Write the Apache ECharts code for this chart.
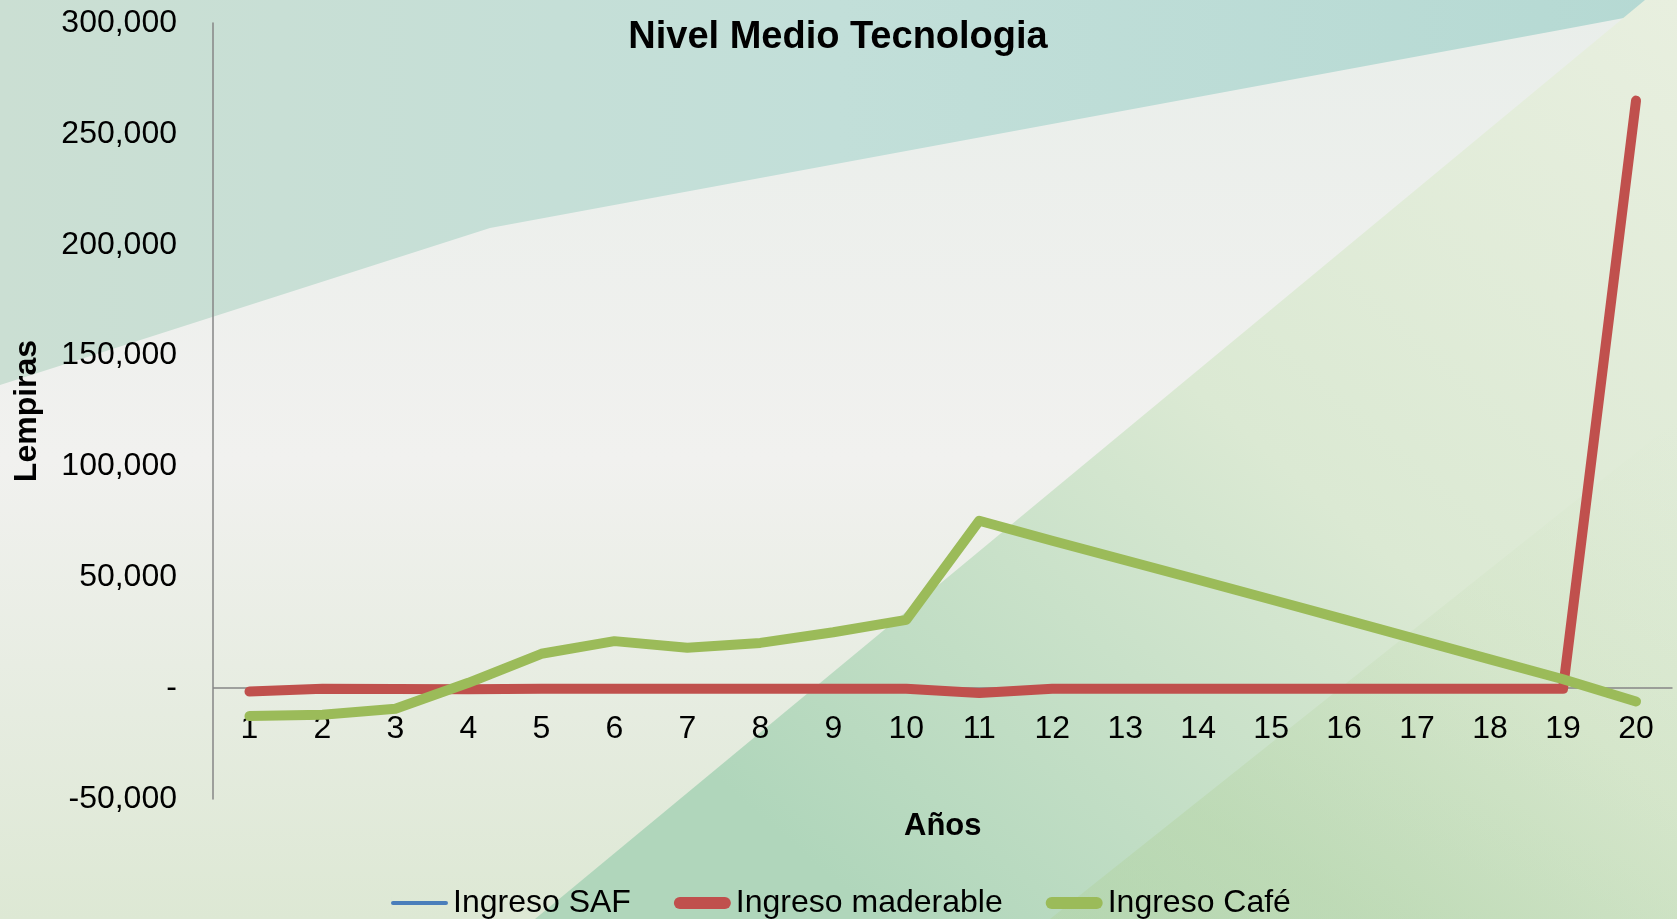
<!DOCTYPE html>
<html>
<head>
<meta charset="utf-8">
<script src="https://cdn.jsdelivr.net/npm/echarts@6/dist/echarts.min.js"></script>
<style>
  html, body { margin: 0; padding: 0; }
  #chart { width: 1677px; height: 919px; }
</style>
</head>
<body>
<div id="chart"></div>
<script>
  // años 1..20
  var years = ['1', '2', '3', '4', '5', '6', '7', '8', '9', '10',
    '11', '12', '13', '14', '15', '16', '17', '18', '19', '20']
  // Ingreso SAF no aparece en la grafica (solo en la leyenda)
  var ingresoSAF = []
  var ingresoMaderable = [-1500, -300, -400, -500, -300, -300, -300, -300, -300, -300,
    -2200, -300, -300, -300, -300, -300, -300, -300, -300, 265000]
  var ingresoCafe = [-12600, -12000, -9300, 2400, 15500, 21200, 18200, 20400, 25200, 30800,
    75500, 66500, 57700, 48900, 40000, 31000, 22000, 13000, 4000, -6000]

  var font = 'Liberation Sans, Arial, sans-serif'
  var clear = 'rgba(0,0,0,0)'
  var capsule = 'path://M6,0 L51,0 A6,6 0 0 1 51,12 L6,12 A6,6 0 0 1 6,0 Z'

  var dom = echarts.init(document.getElementById('chart'))

  // fondo tipo diapositiva
  var background = [
    {
      type: 'rect', z: -10, silent: true,
      shape: { x: 0, y: 0, width: 1677, height: 919 },
      style: {
        fill: new echarts.graphic.LinearGradient(0, 0, 0, 1, [
          { offset: 0, color: '#e9eeea' },
          { offset: 0.5, color: '#f1f1ef' },
          { offset: 1, color: '#dde8d4' }
        ])
      }
    },
    {
      type: 'polygon', z: -9, silent: true,
      shape: { points: [[0, 0], [1677, 0], [1677, 8], [1560, 30], [490, 228], [0, 385]] },
      style: {
        fill: new echarts.graphic.LinearGradient(0, 0, 1, 0, [
          { offset: 0, color: '#cbdfd3' },
          { offset: 0.5, color: '#c2dfd9' },
          { offset: 1, color: '#b5d9d3' }
        ])
      }
    },
    {
      type: 'polygon', z: -8, silent: true,
      shape: { points: [[1645, 0], [1677, 0], [1677, 919], [535, 919]] },
      style: {
        fill: new echarts.graphic.LinearGradient(1, 0, 0.3, 1, [
          { offset: 0, color: '#e8efdf' },
          { offset: 0.5, color: '#dbe9d3' },
          { offset: 1, color: '#b0d6bb' }
        ])
      }
    },
    {
      type: 'polygon', z: -7, silent: true,
      shape: { points: [[1677, 420], [1677, 919], [1050, 919]] },
      style: {
        fill: new echarts.graphic.LinearGradient(1, 0, 0.5, 1, [
          { offset: 0, color: 'rgba(200,225,185,0)' },
          { offset: 1, color: 'rgba(175,208,150,0.35)' }
        ])
      }
    }
  ]

  var option = {
    backgroundColor: '#eef0ec',
    graphic: background,
    title: {
      text: 'Nivel Medio Tecnologia',
      left: 833,
      top: 14,
      textAlign: 'center',
      textStyle: {
        fontFamily: font,
        fontSize: 38,
        fontWeight: 'bold',
        color: '#000'
      }
    },
    legend: {
      left: 386,
      top: 882,
      itemWidth: 57,
      itemHeight: 12,
      itemGap: 43,
      textStyle: {
        fontFamily: font,
        fontSize: 32,
        color: '#000'
      },
      data: [
        {
          name: 'Ingreso SAF',
          icon: 'path://M0,0 L0.01,0 L0.01,12 L0,12 Z M2,4 L55,4 A2,2 0 0 1 55,8 L2,8 A2,2 0 0 1 2,4 Z',
          itemStyle: { color: '#4a7ebb' }
        },
        { name: 'Ingreso maderable', icon: capsule, itemStyle: { color: '#c0504d' } },
        { name: 'Ingreso Café', icon: capsule, itemStyle: { color: '#9bbb59' } }
      ]
    },
    grid: {
      left: 213,
      right: 4.5,
      top: 23,
      bottom: 120,
      outerBoundsMode: 'none',
      containLabel: false
    },
    xAxis: {
      type: 'category',
      data: years,
      name: 'Años',
      nameLocation: 'middle',
      nameGap: 12,
      nameMoveOverlap: false,
      nameTextStyle: {
        fontFamily: font,
        fontSize: 31,
        fontWeight: 'bold',
        color: '#000'
      },
      axisLine: { show: false, onZero: false },
      axisTick: { show: false },
      axisLabel: {
        margin: -86,
        fontFamily: font,
        fontSize: 32,
        color: '#000'
      },
      splitLine: { show: false }
    },
    yAxis: {
      type: 'value',
      min: -50000,
      max: 300000,
      interval: 50000,
      name: 'Lempiras',
      nameLocation: 'middle',
      nameGap: 170,
      nameTextStyle: {
        fontFamily: font,
        fontSize: 32,
        fontWeight: 'bold',
        color: '#000'
      },
      axisLine: {
        show: true,
        lineStyle: { color: '#868686', width: 1.5 }
      },
      axisTick: { show: false },
      axisLabel: {
        margin: 36,
        fontFamily: font,
        fontSize: 32,
        color: '#000',
        formatter: function (v) {
          if (v === 0) return '-'
          return v.toLocaleString('en-US')
        }
      },
      // solo la linea en cero (eje horizontal)
      splitLine: {
        show: true,
        lineStyle: {
          width: 1.5,
          color: [clear, '#868686', clear, clear, clear, clear, clear, clear]
        }
      }
    },
    series: [
      {
        name: 'Ingreso SAF',
        type: 'line',
        data: ingresoSAF,
        symbol: 'none',
        color: '#4a7ebb',
        lineStyle: { color: '#4a7ebb', width: 4, cap: 'round', join: 'round' }
      },
      {
        name: 'Ingreso maderable',
        type: 'line',
        data: ingresoMaderable,
        symbol: 'none',
        color: '#c0504d',
        z: 3,
        lineStyle: { color: '#c0504d', width: 10, cap: 'round', join: 'round' }
      },
      {
        name: 'Ingreso Café',
        type: 'line',
        data: ingresoCafe,
        symbol: 'none',
        color: '#9bbb59',
        z: 4,
        lineStyle: { color: '#9bbb59', width: 10, cap: 'round', join: 'round' }
      }
    ]
  }

  dom.setOption(option)
</script>
</body>
</html>
